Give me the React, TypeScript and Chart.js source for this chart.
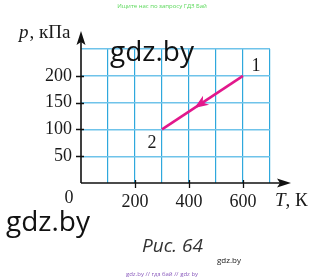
import React, { useEffect, useRef } from 'react';
import { Chart, registerables } from 'chart.js';

Chart.register(...registerables);

// ---- data ----
const temperatureK = [600, 300];
const pressureKPa = [200, 100];
const stateLabels = ['1', '2'];
const xLabeledTicks = [200, 400, 600];
const yLabeledTicks = [50, 100, 150, 200];
const xMax = 700;
const yMax = 250;
const xStep = 100;
const yStep = 50;

const W = 325;
const H = 280;
const SERIF = '"Liberation Serif", "Times New Roman", serif';
const SANS = '"Open Sans", "Noto Sans", sans-serif';
const MAGENTA = '#e2188c';

export default function App() {
  const ref = useRef<HTMLCanvasElement>(null);

  useEffect(() => {
    const canvas = ref.current;
    if (!canvas) return;

    const decor = {
      id: 'decor',
      afterDatasetsDraw(chart: any) {
        const { ctx, scales } = chart;
        const xs = scales.x;
        const ys = scales.y;
        // direction arrow on the process line (1 -> 2)
        const x1 = xs.getPixelForValue(temperatureK[0]);
        const y1 = ys.getPixelForValue(pressureKPa[0]);
        const x2 = xs.getPixelForValue(temperatureK[1]);
        const y2 = ys.getPixelForValue(pressureKPa[1]);
        const frac = 0.6;
        const tx = x1 + (x2 - x1) * frac;
        const ty = y1 + (y2 - y1) * frac;
        const len = Math.hypot(x2 - x1, y2 - y1);
        const ux = (x2 - x1) / len;
        const uy = (y2 - y1) / len;
        const px = -uy;
        const py = ux;
        const L = 14;
        const Wd = 5.5;
        ctx.save();
        ctx.fillStyle = MAGENTA;
        ctx.beginPath();
        ctx.moveTo(tx, ty);
        ctx.lineTo(tx - ux * L + px * Wd, ty - uy * L + py * Wd);
        ctx.lineTo(tx - ux * (L - 4), ty - uy * (L - 4));
        ctx.lineTo(tx - ux * L - px * Wd, ty - uy * L - py * Wd);
        ctx.closePath();
        ctx.fill();
        ctx.restore();
      },
      afterDraw(chart: any) {
        const { ctx, scales } = chart;
        const xs = scales.x;
        const ys = scales.y;
        const ox = xs.getPixelForValue(0);
        const oy = ys.getPixelForValue(0);
        ctx.save();
        // axes with arrows
        ctx.strokeStyle = '#111';
        ctx.fillStyle = '#111';
        ctx.lineWidth = 1.6;
        ctx.beginPath();
        ctx.moveTo(ox, oy);
        ctx.lineTo(ox, 40);
        ctx.moveTo(ox, oy);
        ctx.lineTo(282, oy);
        ctx.stroke();
        ctx.beginPath();
        ctx.moveTo(ox, 31);
        ctx.lineTo(ox - 4.5, 45);
        ctx.lineTo(ox, 42);
        ctx.lineTo(ox + 4.5, 45);
        ctx.closePath();
        ctx.fill();
        ctx.beginPath();
        ctx.moveTo(291, oy);
        ctx.lineTo(277, oy - 4.5);
        ctx.lineTo(280, oy);
        ctx.lineTo(277, oy + 4.5);
        ctx.closePath();
        ctx.fill();
        // tick marks
        ctx.lineWidth = 1.3;
        ctx.beginPath();
        yLabeledTicks.forEach((v) => {
          const py = Math.round(ys.getPixelForValue(v)) + 0.5;
          ctx.moveTo(ox - 5, py);
          ctx.lineTo(ox + 3, py);
        });
        xLabeledTicks.forEach((v) => {
          const px = Math.round(xs.getPixelForValue(v)) + 0.5;
          ctx.moveTo(px, oy - 3);
          ctx.lineTo(px, oy + 5);
        });
        ctx.stroke();

        // origin label and axis titles
        ctx.fillStyle = '#1a1a1a';
        ctx.textBaseline = 'alphabetic';
        ctx.textAlign = 'center';
        ctx.font = `18px ${SERIF}`;
        ctx.fillText('0', ox - 12, oy + 20);

        ctx.textAlign = 'left';
        ctx.font = `italic 19px ${SERIF}`;
        ctx.fillText('p', 19, 38);
        let w = ctx.measureText('p').width;
        ctx.font = `19px ${SERIF}`;
        ctx.fillText(', кПа', 19 + w + 1, 38);

        ctx.font = `italic 19px ${SERIF}`;
        ctx.fillText('T', 275, 206);
        w = ctx.measureText('T').width;
        ctx.font = `19px ${SERIF}`;
        ctx.fillText(', К', 275 + w, 206);

        // state labels
        ctx.font = `18px ${SERIF}`;
        ctx.textAlign = 'center';
        const lx1 = xs.getPixelForValue(temperatureK[0]);
        const ly1 = ys.getPixelForValue(pressureKPa[0]);
        const lx2 = xs.getPixelForValue(temperatureK[1]);
        const ly2 = ys.getPixelForValue(pressureKPa[1]);
        ctx.fillText(stateLabels[0], lx1 + 13, ly1 - 5);
        ctx.fillText(stateLabels[1], lx2 - 10, ly2 + 19);

        // watermarks / caption
        ctx.textAlign = 'left';
        ctx.fillStyle = '#111';
        ctx.font = `28px ${SANS}`;
        ctx.fillText('gdz.by', 110, 61);
        ctx.fillText('gdz.by', 6, 231);

        ctx.fillStyle = '#333';
        ctx.font = `italic 19px ${SANS}`;
        ctx.fillText('Рис. 64', 142, 252);

        ctx.fillStyle = '#222';
        ctx.font = `8px ${SANS}`;
        ctx.fillText('gdz.by', 217, 263);

        ctx.textAlign = 'center';
        ctx.fillStyle = '#5ad85a';
        ctx.font = `6px ${SANS}`;
        ctx.fillText('Ищите нас по запросу ГДЗ Бай', 162, 8);

        ctx.fillStyle = '#8a5bbd';
        ctx.fillText('gdz.by // гдз бай // gdz by', 162, 276);
        ctx.restore();
      },
    };

    const chart = new Chart(canvas, {
      type: 'scatter',
      data: {
        datasets: [
          {
            data: temperatureK.map((t, i) => ({ x: t, y: pressureKPa[i] })),
            showLine: true,
            borderColor: MAGENTA,
            backgroundColor: MAGENTA,
            borderWidth: 2.6,
            pointRadius: 0,
            borderCapStyle: 'butt',
          },
        ],
      },
      options: {
        responsive: false,
        maintainAspectRatio: false,
        animation: false,
        events: [],
        layout: { padding: { top: 49, right: 55, left: 0, bottom: 0 } },
        plugins: { legend: { display: false }, tooltip: { enabled: false } },
        scales: {
          x: {
            type: 'linear',
            min: 0,
            max: xMax,
            afterFit: (s: any) => {
              s.height = 97;
            },
            border: { display: false },
            grid: {
              drawTicks: false,
              color: (c: any) => (c.tick && c.tick.value === 0 ? 'rgba(0,0,0,0)' : '#2ea8dd'),
              lineWidth: 1.2,
            },
            ticks: {
              stepSize: xStep,
              autoSkip: false,
              maxRotation: 0,
              padding: 8,
              color: '#1a1a1a',
              font: { family: SERIF, size: 18 },
              callback: (v: any) => (xLabeledTicks.includes(Number(v)) ? String(v) : ''),
            },
          },
          y: {
            type: 'linear',
            min: 0,
            max: yMax,
            afterFit: (s: any) => {
              s.width = 81;
            },
            border: { display: false },
            grid: {
              drawTicks: false,
              color: (c: any) => (c.tick && c.tick.value === 0 ? 'rgba(0,0,0,0)' : '#6fc3ea'),
              lineWidth: 1.4,
            },
            ticks: {
              stepSize: yStep,
              autoSkip: false,
              padding: 9,
              color: '#1a1a1a',
              font: { family: SERIF, size: 18 },
              callback: (v: any) => (yLabeledTicks.includes(Number(v)) ? String(v) : ''),
            },
          },
        },
      },
      plugins: [decor],
    });

    return () => chart.destroy();
  }, []);

  return (
    <div style={{ position: 'fixed', left: 0, top: 0, width: W, height: H, background: '#fff' }}>
      <canvas ref={ref} width={W} height={H} style={{ width: W, height: H, display: 'block' }} />
    </div>
  );
}
